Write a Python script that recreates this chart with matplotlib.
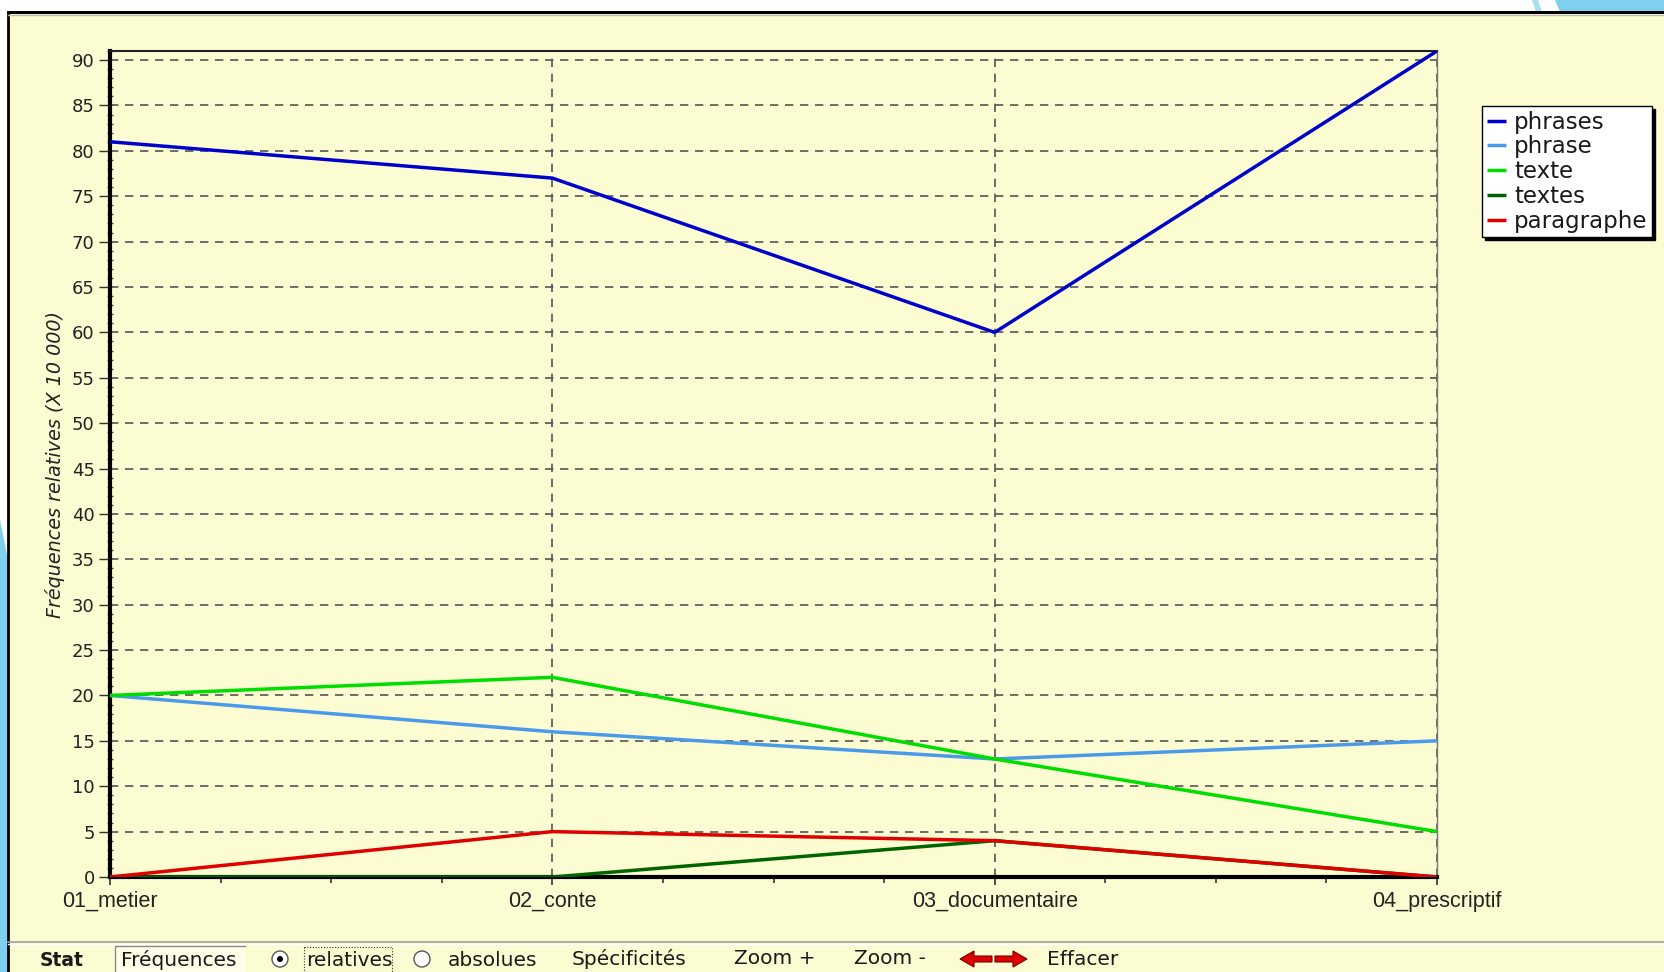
import matplotlib
matplotlib.use("Agg")
import matplotlib.pyplot as plt
from matplotlib.patches import Rectangle, Polygon
from matplotlib.ticker import MultipleLocator
import numpy as np

categories = ["01_metier", "02_conte", "03_documentaire", "04_prescriptif"]
phrases = [81, 77, 60, 91]
phrase = [20, 16, 13, 15]
texte = [20, 22, 13, 5]
textes = [0, 0, 4, 0]
paragraphe = [0, 5, 4, 0]
series_names = ["phrases", "phrase", "texte", "textes", "paragraphe"]
series_colors = ["#0000CC", "#4A9AEA", "#00DD00", "#006400", "#E00000"]
y_ticks = list(range(0, 95, 5))

YELLOW = "#FCFCD2"
W, H = 1664, 972

plt.rcParams['font.family'] = ['DejaVu Sans']
fig = plt.figure(figsize=(W / 100, H / 100), dpi=100)
fig.patch.set_facecolor("white")

# background overlay in pixel coordinates
bg = fig.add_axes([0, 0, 1, 1], zorder=0)
bg.set_xlim(0, W)
bg.set_ylim(H, 0)
bg.axis("off")
# decorative slide background
bg.add_patch(Polygon([[1555, 0], [W, 0], [W, 12], [1560, 12]], closed=True, color="#7FD0EE", lw=0))
bg.add_patch(Polygon([[1532, 0], [1538, 0], [1542, 12], [1536, 12]], closed=True, color="#A8DFF2", lw=0))
bg.add_patch(Polygon([[0, 520], [8, 560], [8, H], [0, H]], closed=True, color="#7FD0EE", lw=0))
# panel
bg.add_patch(Rectangle((8, 12), W, H, facecolor=YELLOW, edgecolor="black", lw=2))
bg.plot([8, W], [12, 12], color="black", lw=2)
bg.plot([8, W], [15, 15], color="#BBBBBB", lw=1)
# toolbar
bg.plot([8, W], [942, 942], color="#A0A0A0", lw=1.2)
bg.plot([8, W], [944, 944], color="white", lw=1)
ty = 960
tc = "#1a1a1a"
fs = 14.5
bg.text(62, ty, "Stat", ha="center", va="center", fontsize=13.5, fontweight="bold", color=tc)
bg.add_patch(Rectangle((115, 946), 130, 26, facecolor="#FDFDE8", edgecolor="none"))
bg.plot([115, 115, 245], [972, 946, 946], color="#888888", lw=1)
bg.text(121, ty, "Fréquences", ha="left", va="center", fontsize=fs, color=tc)
bg.add_patch(plt.Circle((280, ty - 1), 8, facecolor="white", edgecolor="#555555", lw=1))
bg.add_patch(plt.Circle((280, ty - 1), 3, facecolor="black", edgecolor="none"))
bg.add_patch(Rectangle((304, 947), 88, 25, facecolor="none", edgecolor="#333333", lw=0.8, linestyle=(0, (1, 1.5))))
bg.text(306, ty, "relatives", ha="left", va="center", fontsize=fs, color=tc)
bg.add_patch(plt.Circle((422, ty - 1), 8, facecolor="white", edgecolor="#555555", lw=1))
bg.text(448, ty, "absolues", ha="left", va="center", fontsize=fs, color=tc)
bg.text(572, ty - 1, "Spécificités", ha="left", va="center", fontsize=fs, color=tc)
bg.text(734, ty - 2, "Zoom +", ha="left", va="center", fontsize=fs, color=tc)
bg.text(854, ty - 2, "Zoom -", ha="left", va="center", fontsize=fs, color=tc)
# red arrows
ax0, ay0 = 960, ty - 1
bg.add_patch(Polygon([[ax0, ay0], [ax0 + 14, ay0 - 8], [ax0 + 14, ay0 - 3], [ax0 + 32, ay0 - 3],
                      [ax0 + 32, ay0 + 3], [ax0 + 14, ay0 + 3], [ax0 + 14, ay0 + 8]],
                     closed=True, facecolor="#E00000", edgecolor="#700000", lw=0.8))
ax1 = 1027
bg.add_patch(Polygon([[ax1, ay0], [ax1 - 14, ay0 - 8], [ax1 - 14, ay0 - 3], [ax1 - 32, ay0 - 3],
                      [ax1 - 32, ay0 + 3], [ax1 - 14, ay0 + 3], [ax1 - 14, ay0 + 8]],
                     closed=True, facecolor="#E00000", edgecolor="#700000", lw=0.8))
bg.text(1047, ty - 1, "Effacer", ha="left", va="center", fontsize=fs, color=tc)

# main chart
left, right = 110 / W, 1437 / W
bottom, top = 1 - 877 / H, 1 - 51 / H
ax = fig.add_axes([left, bottom, right - left, top - bottom], zorder=2)
ax.set_facecolor(YELLOW)
x = np.arange(len(categories))
for name, vals, col in zip(series_names, [phrases, phrase, texte, textes, paragraphe], series_colors):
    ax.plot(x, vals, color=col, lw=2.5, label=name, zorder=3, solid_capstyle="butt")

ax.set_xlim(0, len(categories) - 1)
ax.set_ylim(0, 91)
ax.set_yticks(y_ticks)
ax.yaxis.set_minor_locator(MultipleLocator(1))
ax.set_xticks(x)
ax.set_xticklabels(categories, fontsize=15.5, color="#222222", family="Liberation Sans")
ax.xaxis.set_minor_locator(MultipleLocator(0.25))
ax.tick_params(axis="y", which="major", direction="out", length=8, width=1, color="#333333",
               labelsize=13, labelcolor="#222222", pad=3)
ax.tick_params(axis="y", which="minor", direction="inout", length=4, width=1, color="#555555")
ax.tick_params(axis="x", which="major", direction="out", length=6, width=1.2, color="#333333", pad=4)
ax.tick_params(axis="x", which="minor", direction="out", length=4, width=1.2, color="#333333")
ax.grid(True, which="major", color="#555555", linestyle=(0, (5, 4)), lw=1.2, zorder=1)
ax.set_axisbelow(True)
ax.spines["left"].set_linewidth(3)
ax.spines["left"].set_color("black")
ax.spines["bottom"].set_linewidth(3)
ax.spines["bottom"].set_color("black")
ax.spines["top"].set_linewidth(1.5)
ax.spines["top"].set_color("#222222")
ax.spines["right"].set_linewidth(1)
ax.spines["right"].set_color("#777777")
ax.set_ylabel("Fréquences relatives (X 10 000)", fontsize=13.8, style="italic", color="#222222", labelpad=5)

leg = ax.legend(loc="upper left", bbox_to_anchor=(1482 / W, 1 - 106 / H), bbox_transform=fig.transFigure,
                fontsize=16.5, frameon=True, fancybox=False, shadow={"color": "black", "alpha": 1},
                handlelength=0.85, handletextpad=0.35, borderpad=0.2, labelspacing=0.08,
                borderaxespad=0)
leg.get_frame().set_edgecolor("black")
leg.get_frame().set_linewidth(1)
for t in leg.get_texts():
    t.set_color("#1a1a1a")

fig.savefig("out.png", dpi=100, facecolor=fig.get_facecolor())
